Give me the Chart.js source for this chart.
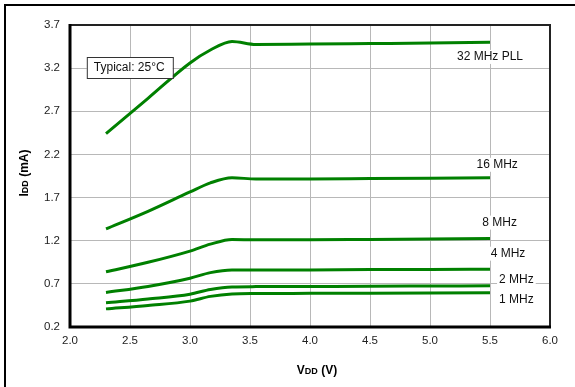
<!DOCTYPE html>
<html>
<head>
<meta charset="utf-8">
<script src="https://cdn.jsdelivr.net/npm/chart.js@4.4.0/dist/chart.umd.min.js"></script>
<style>
  html, body { margin: 0; padding: 0; background: #fff; }
</style>
</head>
<body>
<canvas id="chart" width="575" height="387"></canvas>
<script>
// supply voltage (V) where the curves were read
const vdd = [2.3, 2.65, 3.0, 3.17, 3.35, 3.55, 4.0, 4.5, 5.0, 5.5];

// IDD (mA) per clock setting
const idd32 = [2.44, 2.85, 3.26, 3.41, 3.51, 3.475, 3.48, 3.485, 3.49, 3.50];
const idd16 = [1.336, 1.54, 1.765, 1.87, 1.93, 1.915, 1.915, 1.92, 1.925, 1.93];
const idd8 = [0.84, 0.95, 1.08, 1.16, 1.215, 1.21, 1.21, 1.215, 1.22, 1.225];
const idd4 = [0.60, 0.67, 0.765, 0.83, 0.86, 0.86, 0.86, 0.865, 0.865, 0.87];
const idd2 = [0.48, 0.525, 0.58, 0.635, 0.665, 0.668, 0.67, 0.672, 0.675, 0.678];
const idd1 = [0.41, 0.45, 0.50, 0.555, 0.583, 0.588, 0.59, 0.592, 0.594, 0.596];

const seriesNames = ["32 MHz PLL", "16 MHz", "8 MHz", "4 MHz", "2 MHz", "1 MHz"];
// where each curve name sits (data coords)
const labelX = [5.5, 5.56, 5.58, 5.65, 5.72, 5.72];
const labelY = [3.33, 2.08, 1.41, 1.05, 0.745, 0.513];

const xTicks = [2.0, 2.5, 3.0, 3.5, 4.0, 4.5, 5.0, 5.5, 6.0];
const yTicks = [0.2, 0.7, 1.2, 1.7, 2.2, 2.7, 3.2, 3.7];

const FONT = "'Liberation Sans', Arial, sans-serif";
const GREEN = "rgb(0,128,0)";

function pts(vals) {
    return vdd.map((v, i) => ({ x: v, y: vals[i] }));
}

const allSeries = [idd32, idd16, idd8, idd4, idd2, idd1];

// frame, borders, curve labels, note box, axis titles
const decorations = {
    id: "decorations",
    beforeDatasetsDraw(chart) {
        const ctx = chart.ctx;
        ctx.save();
        // outer frame (left + top)
        ctx.strokeStyle = "#000";
        ctx.lineWidth = 2;
        ctx.beginPath();
        ctx.moveTo(5, 387);
        ctx.lineTo(5, 5);
        ctx.lineTo(575, 5);
        ctx.stroke();
        ctx.restore();
    },
    afterDatasetsDraw(chart) {
        const ctx = chart.ctx;
        const a = chart.chartArea;
        const xs = chart.scales.x, ys = chart.scales.y;
        ctx.save();

        // curve labels with white backing
        ctx.font = "12px " + FONT;
        ctx.textAlign = "center";
        ctx.textBaseline = "middle";
        seriesNames.forEach((name, i) => {
            const px = xs.getPixelForValue(labelX[i]);
            const py = ys.getPixelForValue(labelY[i]);
            const w = ctx.measureText(name).width;
            ctx.fillStyle = "#fff";
            ctx.fillRect(px - w / 2 - 2, py - 7, w + 4, 14);
            ctx.fillStyle = "#111";
            ctx.fillText(name, px, py);
        });

        // note box
        const bx = xs.getPixelForValue(2.14), by = 57;
        ctx.fillStyle = "#fff";
        ctx.fillRect(bx, by, 86, 21);
        ctx.strokeStyle = "#333";
        ctx.lineWidth = 1;
        ctx.strokeRect(bx + 0.5, by + 0.5, 86, 21);
        ctx.fillStyle = "#111";
        ctx.textAlign = "left";
        ctx.fillText("Typical: 25°C", bx + 7, by + 11);

        // plot border
        ctx.strokeStyle = "#222";
        ctx.lineWidth = 2;
        ctx.strokeRect(a.left, a.top, a.right - a.left, a.bottom - a.top);
        ctx.strokeStyle = "#000";
        ctx.lineWidth = 3;
        ctx.beginPath();
        ctx.moveTo(a.left, a.top - 1);
        ctx.lineTo(a.left, a.bottom);
        ctx.lineTo(a.right + 1, a.bottom);
        ctx.stroke();

        // axis titles with small "DD"
        const widthOf = (parts) => {
            let total = 0;
            parts.forEach(p => { ctx.font = p.f; total += ctx.measureText(p.t).width; });
            return total;
        };
        const xParts = [
            { t: "V", f: "bold 12px " + FONT },
            { t: "DD", f: "bold 9px " + FONT },
            { t: " (V)", f: "bold 12px " + FONT }
        ];
        let tw = widthOf(xParts);
        let cx = 317 - tw / 2;
        ctx.fillStyle = "#000";
        ctx.textBaseline = "alphabetic";
        ctx.textAlign = "left";
        xParts.forEach(p => {
            ctx.font = p.f;
            ctx.fillText(p.t, cx, 374);
            cx += ctx.measureText(p.t).width;
        });

        const yParts = [
            { t: "I", f: "bold 12px " + FONT },
            { t: "DD", f: "bold 9px " + FONT },
            { t: " (mA)", f: "bold 12px " + FONT }
        ];
        tw = widthOf(yParts);
        ctx.translate(28, 173);
        ctx.rotate(-Math.PI / 2);
        let cy = -tw / 2;
        yParts.forEach(p => {
            ctx.font = p.f;
            ctx.fillText(p.t, cy, 0);
            cy += ctx.measureText(p.t).width;
        });
        ctx.restore();
    }
};

new Chart(document.querySelector("#chart").getContext("2d"), {
    type: "line",
    data: {
        datasets: allSeries.map((vals, i) => ({
            label: seriesNames[i],
            data: pts(vals),
            borderColor: GREEN,
            borderWidth: 3,
            pointRadius: 0,
            fill: false,
            cubicInterpolationMode: "monotone"
        }))
    },
    options: {
        responsive: false,
        animation: false,
        layout: { padding: { left: 0, top: 25, right: 25, bottom: 0 } },
        plugins: {
            legend: { display: false },
            tooltip: { enabled: false }
        },
        scales: {
            x: {
                type: "linear",
                min: 2.0,
                max: 6.0,
                afterFit: (s) => { s.height = 60; },
                afterBuildTicks: (s) => { s.ticks = xTicks.map(v => ({ value: v })); },
                ticks: {
                    padding: 7,
                    color: "#222",
                    font: { family: FONT, size: 11.5 },
                    callback: (v) => Number(v).toFixed(1)
                },
                grid: { color: "#b8b8b8", lineWidth: 1, drawTicks: false },
                border: { display: false }
            },
            y: {
                type: "linear",
                min: 0.2,
                max: 3.7,
                afterFit: (s) => { s.width = 70; },
                afterBuildTicks: (s) => { s.ticks = yTicks.map(v => ({ value: v })); },
                ticks: {
                    padding: 10,
                    color: "#222",
                    font: { family: FONT, size: 11.5 },
                    callback: (v) => Number(v).toFixed(1)
                },
                grid: { color: "#b8b8b8", lineWidth: 1, drawTicks: false },
                border: { display: false }
            }
        }
    },
    plugins: [decorations]
});
</script>
</body>
</html>
